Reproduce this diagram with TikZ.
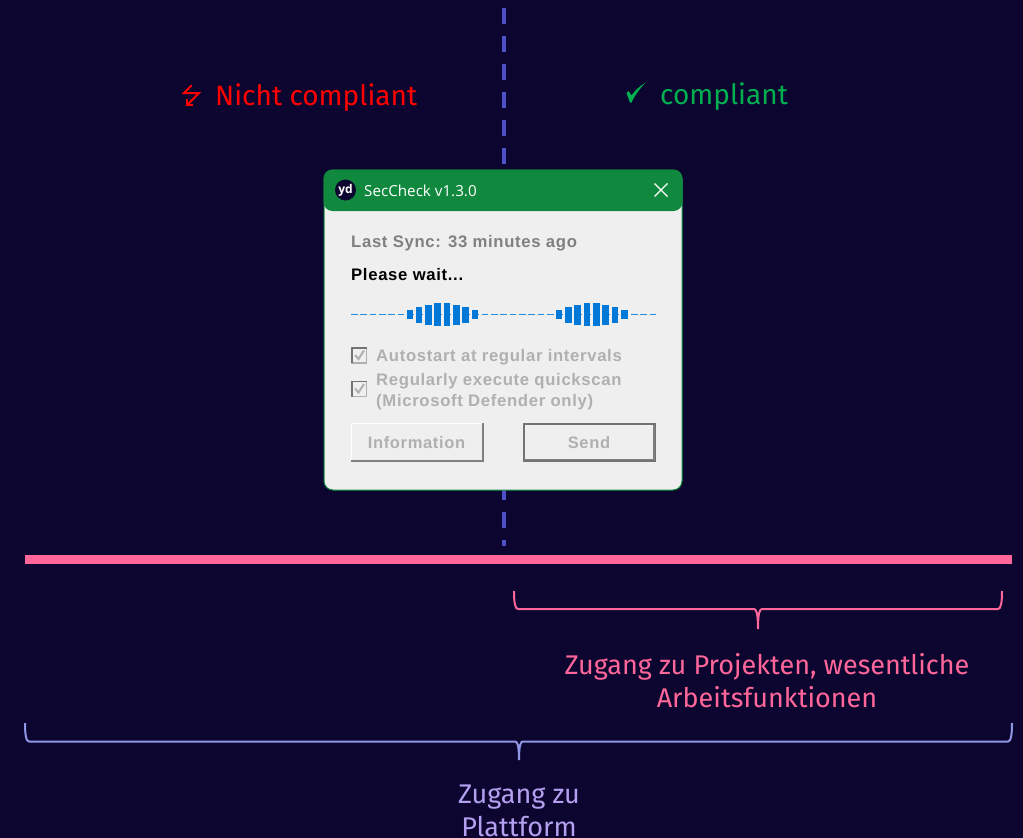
\documentclass[tikz,border=0pt]{standalone}
\usepackage{fontspec}
\setmainfont{Fira Sans}
\newfontfamily\dlgfont[LetterSpace=4]{Liberation Sans}
\newfontfamily\titlefont{Open Sans}
\definecolor{bgnavy}{HTML}{0C052F}
\definecolor{divider}{HTML}{4F4FC8}
\definecolor{rulepink}{HTML}{FF6699}
\definecolor{bracepurple}{HTML}{8F96E6}
\definecolor{textpurple}{HTML}{B4A0F0}
\definecolor{badred}{HTML}{FF0000}
\definecolor{goodgreen}{HTML}{00B050}
\definecolor{dlggreen}{HTML}{10893E}
\definecolor{dlgbody}{HTML}{EFEFEF}
\definecolor{dlgblue}{HTML}{0078D7}
\definecolor{dimgrey}{HTML}{B0B0B0}
\tikzset{
  biglabel/.style={inner sep=0pt, align=center, font=\fontsize{27}{33}\selectfont},
  headlabel/.style={inner sep=0pt, anchor=west, font=\fontsize{28}{33}\selectfont},
  dlgtext/.style={inner sep=0pt, anchor=west, font=\dlgfont\bfseries\fontsize{16.7}{21}\selectfont},
  btntext/.style={inner sep=0pt, text=dimgrey, font=\dlgfont\bfseries\fontsize{16.5}{21}\selectfont},
}
\begin{document}
\begin{tikzpicture}[x=1pt,y=-1pt]
  %background
  \useasboundingbox[fill=bgnavy] (0,0) rectangle (1023,838);

  %divider and rule
  \coordinate (div top) at (503.5,8);
  \coordinate (div end) at (503.5,546);
  \draw[divider, line width=4pt, dash pattern=on 16pt off 12pt] (div top) -- (div end);
  \coordinate (rule left) at (25,559.5);
  \coordinate (rule right) at (1012,559.5);
  \draw[rulepink, line width=8.5pt] (rule left) -- (rule right);

  %headings
  \node[headlabel, text=badred] (bad label) at (215,98) {Nicht compliant};
  \node[headlabel, text=goodgreen] (good label) at (660,97) {compliant};
  \draw[badred, line width=2pt]
    (191.7,85.3) -- (184,93) -- (199,93) -- (187.7,104.5);
  \draw[badred, line width=2pt] (186.7,98.5) -- (186.7,104.7) -- (193,104.7);
  \fill[goodgreen]
    (626.5,93) -- (628.5,91) -- (631.5,95.5) .. controls (635,90) and (640,86) .. (646,82.5)
    .. controls (640,88) and (635,95) .. (631.5,102.5) -- (630,102.5) -- cycle;

  %window
  \filldraw[fill=dlgbody, draw=dlggreen, line width=1pt, rounded corners=9pt]
    (324,170) rectangle (682,490);
  \fill[dlggreen, rounded corners=9pt] (323.5,211) -- (323.5,169.5) -- (682.5,169.5) -- (682.5,211) -- cycle;
  \node[circle, fill=bgnavy, minimum size=21pt, inner sep=0pt, text=white,
    font=\titlefont\bfseries\fontsize{12}{12}\selectfont] (logo) at (345.5,190) {yd};
  \node[anchor=west, inner sep=0pt, text=white, font=\titlefont\fontsize{15.2}{18}\selectfont]
    (win title) at (364,190.5) {SecCheck v1.3.0};
  \draw[white, line width=1.2pt] (654.5,183.5) -- (667.5,196.5) (654.5,196.5) -- (667.5,183.5);

  %texts
  \node[dlgtext, text=black!50] (sync) at (351,243) {Last Sync: 33 minutes ago};
  \node[dlgtext, text=black] (wait) at (351,275) {Please wait...};

  %progress
  \foreach \i in {0,...,32}
    \fill[dlgblue!85!white] (351+\i*9.33,313.5) rectangle +(6.8,1.5);
  \foreach \j in {0,16}
    \foreach \i/\h in {0/9,1/16,2/20,3/23,4/23,5/20,6/16,7/9}
      \fill[dlgblue] (406.5+\j*9.33+\i*9.33,314.5-\h) ++(0,\h/2) rectangle +(6.6,\h);

  %checkboxes
  \foreach \y in {355.5,389} {
    \filldraw[fill=dlgbody, draw=dimgrey, line width=1.6pt] (352,\y-7.5) rectangle (366.5,\y+7.5);
    \draw[black!55, line width=1.6pt] (352,\y+7.5) -- (352,\y-7.5) -- (366.5,\y-7.5);
    \draw[dimgrey, line width=2pt] (355,\y-0.5) -- (358.5,\y+3.5) -- (364,\y-5);
  }
  \node[dlgtext, text=dimgrey] (autostart) at (376,357) {Autostart at regular intervals};
  \node[dlgtext, text=dimgrey] (quickscan) at (376,381) {Regularly execute quickscan};
  \node[dlgtext, text=dimgrey] (defender) at (376,402) {(Microsoft Defender only)};

  %buttons
  \draw[white, line width=1.5pt] (351.5,461) -- (351.5,423.5) -- (483,423.5);
  \draw[black!50, line width=2pt] (351,461) -- (483,461) -- (483,423);
  \node[btntext] (info btn) at (416.5,442.5) {Information};
  \draw[black!55, line width=1.2pt] (524,461) -- (524,424) -- (655.5,424) -- (655.5,461) -- cycle;
  \draw[black!50, line width=1.5pt] (525,459.5) -- (654,459.5) -- (654,425);
  \node[btntext] (send btn) at (589,442.5) {Send};

  %braces
  \coordinate (pink left) at (514,591);
  \coordinate (pink right) at (1002,591);
  \coordinate (pink tip) at (758,629);
  \draw[rulepink, line width=2pt]
    (pink left) .. controls (514,602) and (515,609) .. (518,609) -- (754,609)
    .. controls (756,609) and (758,612) .. (pink tip)
    .. controls (758,612) and (760,609) .. (762,609) -- (998,609)
    .. controls (1001,609) and (1002,602) .. (pink right);
  \coordinate (purple left) at (25,723);
  \coordinate (purple right) at (1012,723);
  \coordinate (purple tip) at (519,760);
  \draw[bracepurple, line width=2pt]
    (purple left) .. controls (25,734) and (26,741.5) .. (29,741.5) -- (515,741.5)
    .. controls (517,741.5) and (519,744) .. (purple tip)
    .. controls (519,744) and (521,741.5) .. (523,741.5) -- (1008,741.5)
    .. controls (1011,741.5) and (1012,734) .. (purple right);

  %labels
  \node[biglabel, text=rulepink] (pink label) at (767,681) {Zugang zu Projekten, wesentliche\\Arbeitsfunktionen};
  \node[biglabel, text=textpurple, anchor=north] (purple label) at (519,785) {Zugang zu\\Plattform};
\end{tikzpicture}
\end{document}
